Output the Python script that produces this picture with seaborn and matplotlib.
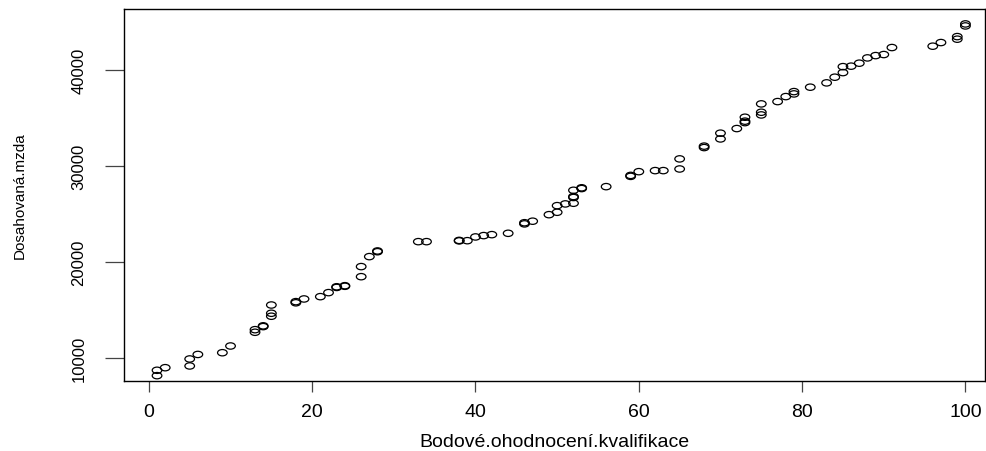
import matplotlib
matplotlib.use('Agg')
import matplotlib.pyplot as plt
from matplotlib.path import Path
import seaborn as sns
import pandas as pd
import numpy as np

# qualification score vs. achieved salary
kvalifikace = [1, 1, 2, 5, 5, 6, 9, 10, 13, 13, 14, 14, 15, 15, 15,
               18, 18, 19, 21, 22, 23, 23, 24, 24, 26, 26, 27, 28, 28,
               33, 34, 38, 38, 39, 40, 41, 42, 44, 46, 46, 47, 49, 50, 50,
               51, 52, 52, 52, 52, 53, 53, 56, 59, 59, 60, 62, 63, 65, 65,
               68, 68, 70, 70, 72, 73, 73, 73, 75, 75, 75, 77, 78, 79, 79,
               81, 83, 84, 85, 85, 86, 87, 88, 89, 90, 91, 96, 97, 99, 99,
               100, 100]
mzda = [8190, 8750, 9020, 9200, 9930, 10400, 10580, 11280, 12710, 12980,
        13300, 13380, 14380, 14690, 15550,
        15780, 15900, 16180, 16420, 16840, 17380, 17450, 17500, 17560,
        18500, 19550, 20590, 21100, 21180,
        22150, 22150, 22230, 22280, 22250, 22640, 22780, 22880, 23020,
        24000, 24120, 24280, 24960, 25210, 25900,
        26080, 26150, 26750, 26850, 27500, 27680, 27760, 27880, 28950,
        29050, 29440, 29550, 29550, 29720, 30770,
        31950, 32100, 32850, 33450, 33930, 34550, 34700, 35110, 35350,
        35630, 36500, 36740, 37260, 37540, 37780,
        38240, 38690, 39280, 39760, 40380, 40430, 40740, 41290, 41530,
        41640, 42370, 42510, 42890, 43240, 43510,
        44620, 44830]
x_ticks = [0, 20, 40, 60, 80, 100]
y_ticks = [10000, 20000, 30000, 40000]

df = pd.DataFrame({'Bodové.ohodnocení.kvalifikace': kvalifikace,
                   'Dosahovaná.mzda': mzda})

sns.set_style('ticks')
plt.rcParams['font.family'] = ['Liberation Sans', 'DejaVu Sans']
plt.rcParams['text.color'] = 'black'
plt.rcParams['axes.labelcolor'] = 'black'
plt.rcParams['xtick.color'] = 'black'
plt.rcParams['ytick.color'] = 'black'

# the reference is squashed vertically, so the circles look like flat ellipses
circ = Path.unit_circle()
ellipse = Path(circ.vertices * np.array([1.0, 0.66]), circ.codes)

fig = plt.figure(figsize=(9.87, 4.52), dpi=100)
ax = fig.add_axes([0.1256, 0.1549, 0.8724, 0.8231])

sns.scatterplot(data=df, x='Bodové.ohodnocení.kvalifikace', y='Dosahovaná.mzda',
                marker=ellipse, s=48, color='black', facecolor='none',
                edgecolor='black', linewidth=0.9, ax=ax)

ax.set_xlim(-3.05, 102.4)
ax.set_ylim(7635, 46390)
ax.set_xticks(x_ticks)
ax.set_yticks(y_ticks)
ax.set_xticklabels([str(v) for v in x_ticks], fontsize=14)
ax.set_yticklabels([str(v) for v in y_ticks], fontsize=12, rotation=90, va='center')
ax.tick_params(axis='x', length=8, width=0.9, color='#444444', pad=8)
ax.tick_params(axis='y', length=14, width=0.9, color='#444444', pad=13)

for sp in ax.spines.values():
    sp.set_visible(True)
    sp.set_color('black')
    sp.set_linewidth(1.0)

ax.set_xlabel('Bodové.ohodnocení.kvalifikace', fontsize=14, labelpad=9)
ax.set_ylabel('Dosahovaná.mzda', fontsize=11, labelpad=32)

fig.savefig('out.png', dpi=100)
plt.close(fig)
